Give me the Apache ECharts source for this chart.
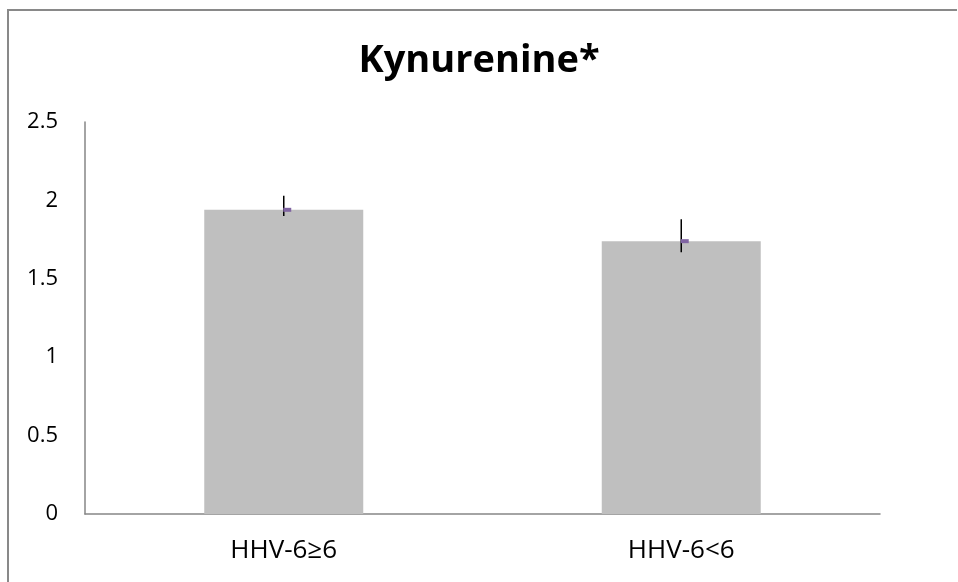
<!DOCTYPE html>
<html>
<head>
<meta charset="utf-8">
<script src="https://cdn.jsdelivr.net/npm/echarts@6/dist/echarts.min.js"></script>
<style>
  html, body { margin: 0; padding: 0; background: #fff; }
  #chart { width: 958px; height: 582px; }
</style>
</head>
<body>
<div id="chart"></div>
<script>
const categories = ['HHV-6≥6', 'HHV-6<6'];
const means = [1.94, 1.74];
const errLow = [1.90, 1.67];
const errHigh = [2.03, 1.88];
const yTicks = [0, 0.5, 1, 1.5, 2, 2.5];

const chart = echarts.init(document.getElementById('chart'));

const errData = categories.map((c, i) => [i, errLow[i], errHigh[i], means[i]]);

chart.setOption({
  backgroundColor: '#fff',
  animation: false,
  title: {
    text: 'Kynurenine*',
    left: 'center',
    top: 37,
    textStyle: { fontFamily: 'Open Sans', fontSize: 38, fontWeight: 'bold', color: '#000' }
  },
  grid: { left: 85, right: 78, top: 122, bottom: 68 },
  xAxis: {
    type: 'category',
    data: categories,
    axisTick: { show: false },
    axisLine: { lineStyle: { color: '#868686', width: 1.5 } },
    axisLabel: { color: '#000', fontFamily: 'Open Sans', fontSize: 26, margin: 24 }
  },
  yAxis: {
    type: 'value',
    min: 0,
    max: yTicks[yTicks.length - 1],
    interval: 0.5,
    axisLine: { show: true, lineStyle: { color: '#868686', width: 1.5 } },
    axisTick: { show: false },
    splitLine: { show: false },
    axisLabel: { color: '#000', fontFamily: 'Open Sans', fontSize: 22, margin: 27 }
  },
  series: [
    {
      type: 'bar',
      data: means,
      barWidth: '40%',
      itemStyle: { color: '#bfbfbf' }
    },
    {
      type: 'custom',
      data: errData,
      z: 10,
      renderItem: function (params, api) {
        const x = api.value(0);
        const lo = api.coord([x, api.value(1)]);
        const hi = api.coord([x, api.value(2)]);
        const mid = api.coord([x, api.value(3)]);
        return {
          type: 'group',
          children: [
            {
              type: 'line',
              shape: { x1: lo[0], y1: lo[1], x2: hi[0], y2: hi[1] },
              style: { stroke: '#000', lineWidth: 1.5 }
            },
            {
              type: 'rect',
              shape: { x: mid[0] - 0.5, y: mid[1] - 2, width: 8, height: 4 },
              style: { fill: '#8064a2' }
            }
          ]
        };
      }
    }
  ],
  graphic: [
    {
      type: 'polyline',
      shape: { points: [[8, 700], [8, 10], [957, 10]] },
      style: { fill: null, stroke: '#898989', lineWidth: 2 },
      silent: true
    }
  ]
});
</script>
</body>
</html>
